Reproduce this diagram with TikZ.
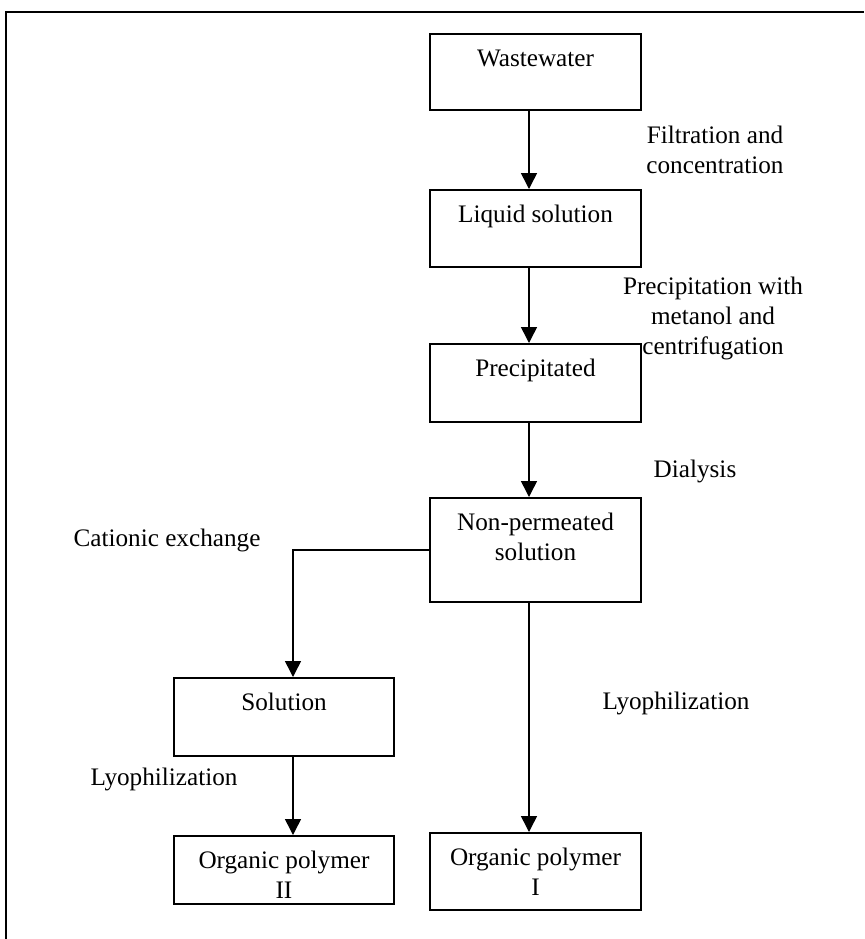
\documentclass[tikz,border=0pt]{standalone}
\usepackage{fontspec}
\setmainfont{Liberation Serif}
\usetikzlibrary{arrows.meta}

\newcommand{\boxtext}[3]{\parbox[b][#1][t]{#2}{\centering\rule{0pt}{16.5pt}#3}}

\begin{document}
\begin{tikzpicture}[x=0.5pt, y=-0.5pt, >={Triangle[length=8pt,width=8pt]},
		every node/.style={font=\fontsize{12.6}{15}\selectfont},
		stage/.style={draw, line width=0.75pt, inner sep=0pt, anchor=north},
		note/.style={align=center, inner sep=0pt}]
		\useasboundingbox (0,0) rectangle (864,939);
		\draw[line width=1pt] (6,939) -- (6,12) -- (864,12);

		\node[stage] (waste) at (535.5,33) {\boxtext{38pt}{105.5pt}{Wastewater}};
		\node[stage] (liquid) at (535.5,189) {\boxtext{38.5pt}{105.5pt}{Liquid solution}};
		\node[stage] (precip) at (535.5,343) {\boxtext{39pt}{105.5pt}{Precipitated}};
		\node[stage] (nonperm) at (535.5,497) {\boxtext{52pt}{105.5pt}{Non-permeated\\solution}};
		\node[stage] (sol) at (284,677) {\boxtext{39pt}{110pt}{Solution}};
		\node[stage] (polyII) at (284,835) {\boxtext{34pt}{110pt}{Organic polymer\\II}};
		\node[stage] (polyI) at (535.5,832) {\boxtext{38.5pt}{105.5pt}{Organic polymer\\I}};

		\draw[->, line width=0.75pt] ([xshift=-3.25pt]waste.south) -- ([xshift=-3.25pt]liquid.north);
		\draw[->, line width=0.75pt] ([xshift=-3.25pt]liquid.south) -- ([xshift=-3.25pt]precip.north);
		\draw[->, line width=0.75pt] ([xshift=-3.25pt]precip.south) -- ([xshift=-3.25pt]nonperm.north);
		\draw[->, line width=0.75pt] (nonperm.west) -| ([xshift=4.5pt]sol.north);
		\draw[->, line width=0.75pt] ([xshift=4.5pt]sol.south) -- ([xshift=4.5pt]polyII.north);
		\draw[->, line width=0.75pt] ([xshift=-3.25pt]nonperm.south) -- ([xshift=-3.25pt]polyI.north);

		\node[note] (filtr) at (715,150) {Filtration and\\concentration};
		\node[note] (metan) at (713,318) {Precipitation with\\metanol and\\centrifugation};
		\node[note] (dialy) at (695,471) {Dialysis};
		\node[note] (cation) at (167,540) {Cationic exchange};
		\node[note] (lyoII) at (164,779) {Lyophilization};
		\node[note] (lyoI) at (676,703) {Lyophilization};
	\end{tikzpicture}
\end{document}
